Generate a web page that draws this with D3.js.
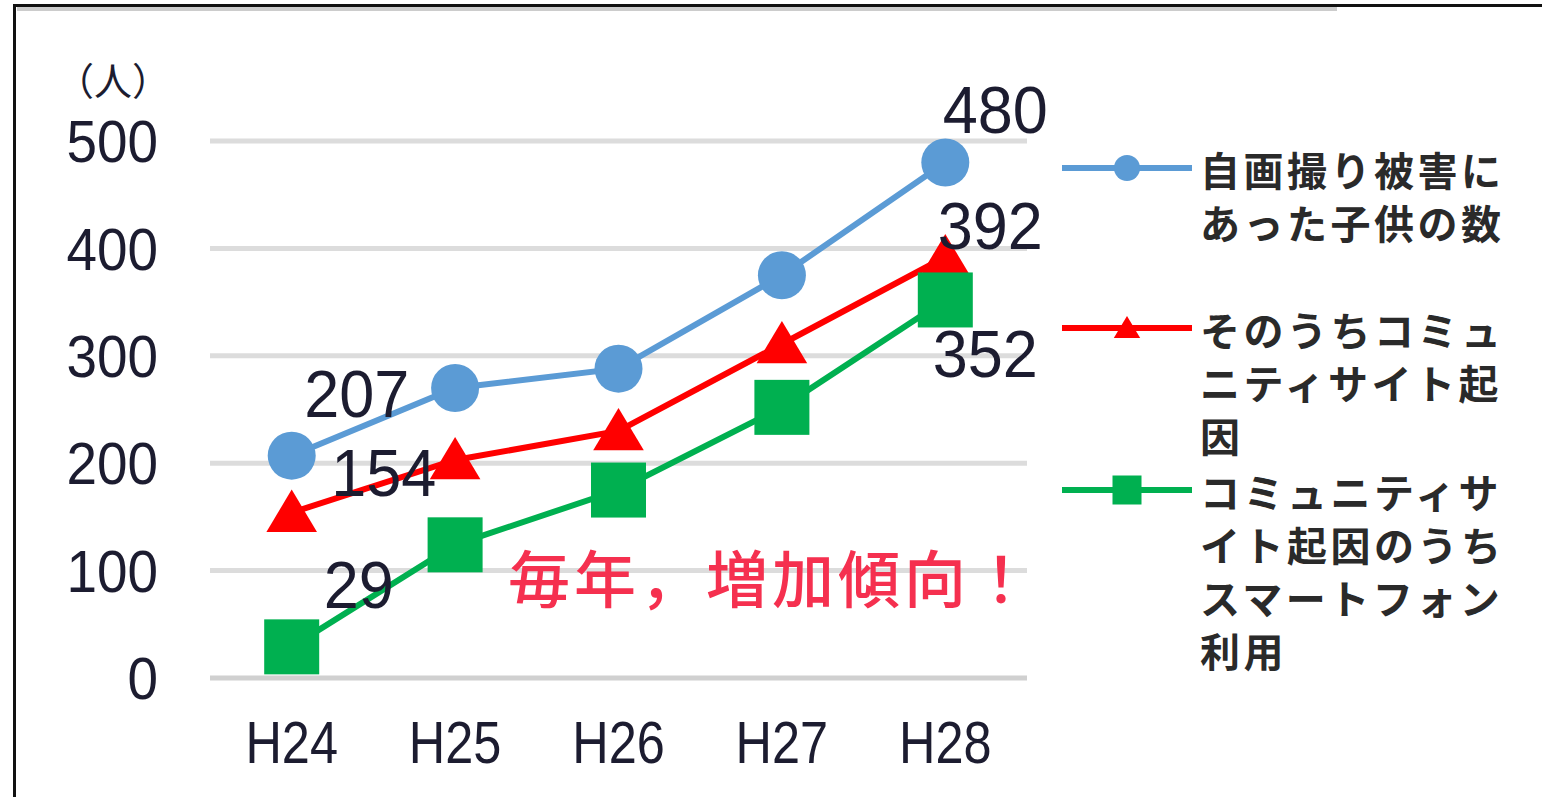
<!DOCTYPE html>
<meta charset="utf-8">
<style>
body { margin: 0; background: #fff; }
svg { display: block; }
.tick-label { font-family: "Liberation Sans", Arial, sans-serif; fill: #1c1c30; }
.jp { font-family: "Noto Sans CJK JP", sans-serif; }
</style>
<body>
<script src="https://cdn.jsdelivr.net/npm/d3@7"></script>
<script>

var years = ["H24", "H25", "H26", "H27", "H28"];
var selfie = [207, 270, 288, 375, 480];
var community = [154, 203, 230, 311, 392];
var smartphone = [29, 124, 175, 252, 352];
var yTicks = [0, 100, 200, 300, 400, 500];

var series = [
  {name: ["自画撮り被害に", "あった子供の数"], values: selfie, color: "#5b9bd5", shape: "circle", ly: 168},
  {name: ["そのうちコミュ", "ニティサイト起", "因"], values: community, color: "#ff0000", shape: "triangle", ly: 328},
  {name: ["コミュニティサ", "イト起因のうち", "スマートフォン", "利用"], values: smartphone, color: "#00b050", shape: "square", ly: 490}
];

// label offsets from the point (the labels were dragged around in the original)
var labels = [
  {s: 0, i: 0, dx: 65, dy: -62}, {s: 0, i: 4, dx: 50, dy: -53},
  {s: 1, i: 0, dx: 92, dy: -40}, {s: 1, i: 4, dx: 45, dy: -32},
  {s: 2, i: 0, dx: 67, dy: -63}, {s: 2, i: 4, dx: 40, dy: 53}
];

var W = 1542, H = 797;
var svg = d3.select("body").append("svg").attr("width", W).attr("height", H);

// frame
svg.append("rect").attr("x", 17).attr("y", 7).attr("width", 1320).attr("height", 4).attr("fill", "#cccccc");
svg.append("line").attr("x1", 13).attr("x2", W).attr("y1", 5.5).attr("y2", 5.5).attr("stroke", "#111").attr("stroke-width", 3);
svg.append("line").attr("x1", 14.5).attr("x2", 14.5).attr("y1", 5).attr("y2", H).attr("stroke", "#111").attr("stroke-width", 3);

var x = d3.scaleBand().domain(years).range([210, 1027]);
var y = d3.scaleLinear().domain([0, 500]).range([678, 141]);
var cx = function(d) { return x(d) + x.bandwidth() / 2; };

// grid
svg.append("g").selectAll("line").data(yTicks).enter().append("line")
    .attr("x1", 210).attr("x2", 1027)
    .attr("y1", function(d) { return y(d); }).attr("y2", function(d) { return y(d); })
    .attr("stroke", function(d) { return d === 0 ? "#d0d0d0" : "#dcdcdc"; })
    .attr("stroke-width", 5);

// y tick labels
svg.append("g").selectAll("text").data(yTicks).enter().append("text")
    .attr("class", "tick-label")
    .attr("transform", function(d) { return "translate(158," + y(d) + ") scale(1.12,1.2)"; })
    .attr("dy", "0.36em")
    .attr("text-anchor", "end")
    .style("font-size", "49px")
    .text(function(d) { return d; });

svg.append("text").attr("class", "jp").attr("x", 56).attr("y", 95)
    .style("font-size", "38px").attr("fill", "#1c1c30").text("（人）");

// x tick labels
svg.append("g").selectAll("text").data(years).enter().append("text")
    .attr("class", "tick-label")
    .attr("transform", function(d) { return "translate(" + cx(d) + ",742) scale(1.03,1.2)"; })
    .attr("dy", "0.36em")
    .attr("text-anchor", "middle")
    .style("font-size", "49px")
    .text(function(d) { return d; });

function marker(g, shape, color, size) {
  if (shape === "circle") {
    g.append("circle").attr("r", size / 2).attr("fill", color);
  } else if (shape === "triangle") {
    g.append("path").attr("d", "M0," + (-size * 0.5) + "L" + (size * 0.55) + "," + (size * 0.42) + "L" + (-size * 0.55) + "," + (size * 0.42) + "Z").attr("fill", color);
  } else {
    g.append("rect").attr("x", -size / 2).attr("y", -size / 2).attr("width", size).attr("height", size).attr("fill", color);
  }
}

var sizes = {circle: 48, triangle: 46, square: 55};
var line = d3.line().x(function(d, i) { return cx(years[i]); }).y(function(d) { return y(d); });

series.forEach(function(s) {
  svg.append("path").attr("d", line(s.values)).attr("fill", "none")
      .attr("stroke", s.color).attr("stroke-width", 6);
  s.values.forEach(function(v, i) {
    var g = svg.append("g").attr("transform", "translate(" + cx(years[i]) + "," + y(v) + ")");
    marker(g, s.shape, s.color, sizes[s.shape]);
  });
});

// data labels
labels.forEach(function(l) {
  var v = series[l.s].values[l.i];
  svg.append("text").attr("class", "tick-label")
      .attr("transform", "translate(" + (cx(years[l.i]) + l.dx) + "," + (y(v) + l.dy) + ") scale(1.05,1.1)")
      .attr("dy", "0.36em").attr("text-anchor", "middle")
      .style("font-size", "60px").attr("fill", "#111")
      .text(v);
});

svg.append("text").attr("class", "jp").attr("x", 508).attr("y", 603)
    .style("font-size", "62px").style("font-weight", 500).attr("fill", "#f5304f").attr("letter-spacing", "4px")
    .text("毎年，増加傾向！");

// legend
var legend = svg.append("g");
var legSizes = {circle: 26, triangle: 24, square: 29};
series.forEach(function(s) {
  legend.append("line").attr("x1", 1062).attr("x2", 1192)
      .attr("y1", s.ly).attr("y2", s.ly).attr("stroke", s.color).attr("stroke-width", 6);
  var g = legend.append("g").attr("transform", "translate(1127," + s.ly + ")");
  marker(g, s.shape, s.color, legSizes[s.shape]);
  s.name.forEach(function(t, k) {
    legend.append("text").attr("class", "jp").attr("x", 1200).attr("y", s.ly + 4 + k * 53)
        .attr("dy", "0.36em").style("font-size", "40px").style("font-weight", 700)
        .attr("letter-spacing", "3.5px").attr("fill", "#2a2a2a").text(t);
  });
});

</script>
